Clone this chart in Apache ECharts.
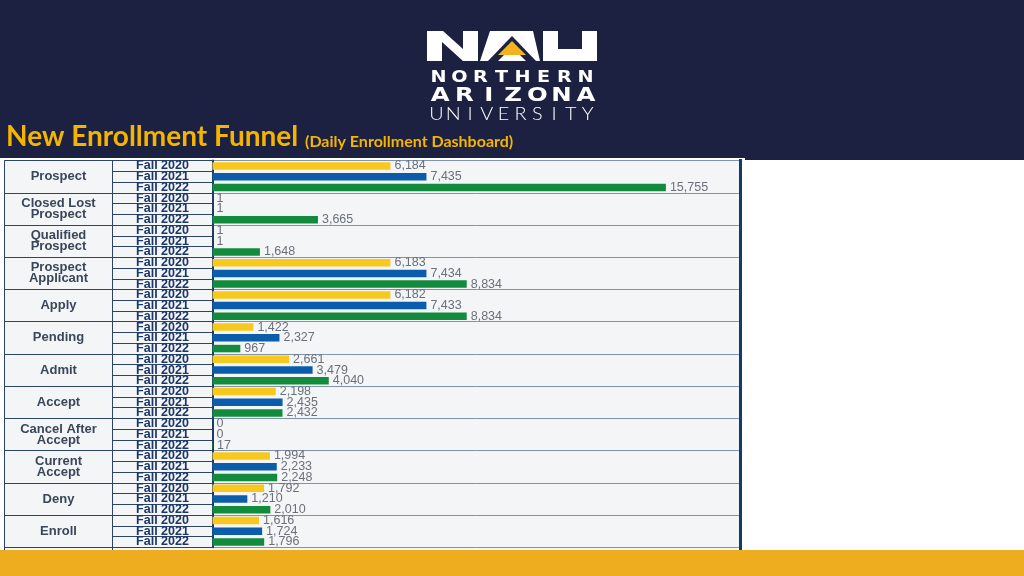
<!DOCTYPE html>
<html>
<head>
<meta charset="utf-8">
<script src="https://cdn.jsdelivr.net/npm/echarts@6/dist/echarts.min.js"></script>
<style>
html,body{margin:0;padding:0;background:#fff;}
#chart{width:1024px;height:576px;}
</style>
</head>
<body>
<div id="chart"></div>
<script>
// ---- data ----
const groups = ['Prospect','Closed Lost\nProspect','Qualified\nProspect','Prospect\nApplicant','Apply','Pending','Admit','Accept','Cancel After\nAccept','Current\nAccept','Deny','Enroll'];
const terms = ['Fall 2020','Fall 2021','Fall 2022'];
const fall2020 = [6184,1,1,6183,6182,1422,2661,2198,0,1994,1792,1616];
const fall2021 = [7435,1,1,7434,7433,2327,3479,2435,0,2233,1210,1724];
const fall2022 = [15755,3665,1648,8834,8834,967,4040,2432,17,2248,2010,1796];
const titleMain = 'New Enrollment Funnel';
const titleSub = '(Daily Enrollment Dashboard)';

// row labels (term under each group)
const rowLabels = [];
groups.forEach(() => terms.forEach(t => rowLabels.push(t)));

const NAVY = '#1c2142';
const GOLD = '#F4B400';

function spaced(text, x0, x1, y, font, weight, size, sx) {
  const n = text.length, step = (x1 - x0) / n, out = [];
  for (let i = 0; i < n; i++) {
    out.push({type:'text', x: x0 + (i + 0.5) * step, y: y, z: 5, scaleX: sx,
      style:{text:text[i], fill:'#ffffff', fontFamily:font, fontWeight:weight, fontSize:size, align:'center', verticalAlign:'middle'}});
  }
  return out;
}

const graphics = [
  // header
  {type:'rect', z:-10, shape:{x:0,y:0,width:1024,height:158}, style:{fill:NAVY}},
  {type:'rect', z:-10, shape:{x:745,y:158,width:279,height:2}, style:{fill:NAVY}},
  // table background
  {type:'rect', z:-10, shape:{x:4.5,y:160.5,width:737,height:390}, style:{fill:'#f4f5f7', stroke:'#2c4468', lineWidth:1}},
  // column dividers
  {type:'line', z:-5, shape:{x1:112.5,y1:160.5,x2:112.5,y2:550}, style:{stroke:'#2c4468', lineWidth:1}},
  {type:'line', z:-5, shape:{x1:4.5,y1:160.5,x2:4.5,y2:550}, style:{stroke:'#2c4468', lineWidth:1}},
  {type:'line', z:20, shape:{x1:740.5,y1:159,x2:740.5,y2:550}, style:{stroke:'#133a6a', lineWidth:3}},
  {type:'line', z:-5, shape:{x1:4.5,y1:160.5,x2:740,y2:160.5}, style:{stroke:'#7f93ad', lineWidth:1}},
  // NAU logo
  {type:'polygon', z:5, shape:{points:[[427,31],[443,31],[463,49],[463,31],[478,31],[478,61],[463,61],[442,42],[442,61],[427,61]]}, style:{fill:'#ffffff'}},
  {type:'polygon', z:5, shape:{points:[[490,31],[533,31],[540,61],[480,61]]}, style:{fill:'#ffffff'}},
  {type:'polygon', z:6, shape:{points:[[512,36],[536,61],[488,61]]}, style:{fill:NAVY}},
  {type:'polygon', z:6, shape:{points:[[498,61],[512,47],[526,61]]}, style:{fill:'#ffffff'}},
  {type:'polygon', z:7, shape:{points:[[512,41],[526,55],[498,55]]}, style:{fill:'#F2B31B'}},
  {type:'polygon', z:5, shape:{points:[[543,31],[558,31],[558,49],[582,49],[582,31],[597,31],[597,61],[543,61]]}, style:{fill:'#ffffff'}},
  // title
  {type:'text', z:5, x:6, y:137, style:{text:titleMain, fill:GOLD, fontFamily:'Lato', fontWeight:'bold', fontSize:28, align:'left', verticalAlign:'middle'}},
  {type:'text', z:5, x:305, y:141.5, style:{text:titleSub, fill:GOLD, fontFamily:'Lato', fontWeight:'bold', fontSize:16, align:'left', verticalAlign:'middle'}},
  // bottom band
  {type:'rect', z:50, shape:{x:0,y:550,width:1024,height:26}, style:{fill:'#EEAC1F'}}
].concat(
  spaced('NORTHERN', 428, 596, 78, 'DejaVu Sans', 'bold', 16, 1.2),
  spaced('ARIZONA', 428, 598, 96, 'DejaVu Sans', 'bold', 19.5, 1.25),
  spaced('UNIVERSITY', 428, 596, 114.5, 'Lato', '300', 18, 1.1)
);

const labelCfg = {
  show:true, position:'right', distance:4,
  fontFamily:'Liberation Sans', fontSize:12.5, color:'#6a707b',
  formatter: p => Number(p.value).toLocaleString('en-US')
};
function barSeries(name, data, color) {
  return {type:'bar', name:name, data:data, yAxisIndex:0, barWidth:7.5, barGap:'43%',
    itemStyle:{color:color}, label:labelCfg, z:3};
}

const chart = echarts.init(document.getElementById('chart'), null, {renderer:'canvas'});
chart.setOption({
  animation:false,
  backgroundColor:'#ffffff',
  grid:{left:212.5, top:160.6, width:527.5, height:386.7, containLabel:false},
  xAxis:{type:'value', min:0, max:18330, show:false},
  yAxis:[
    {type:'category', data:groups, inverse:true, position:'left',
     axisLine:{show:true, lineStyle:{color:'#1d3b66', width:2}},
     axisTick:{show:true, interval:0, length:208, lineStyle:{color:'#2c4468', width:1}},
     axisLabel:{interval:0, margin:154, align:'center', fontFamily:'Liberation Sans', fontWeight:'bold', fontSize:13, lineHeight:11, color:'#39475a'},
     splitLine:{show:true, interval:0, lineStyle:{color:'#7f93ad', width:1}}},
    {type:'category', data:rowLabels, inverse:true, position:'left', offset:0,
     axisLine:{show:false},
     axisTick:{show:true, interval:0, length:100, lineStyle:{color:'#2c4468', width:1}},
     axisLabel:{interval:0, margin:50, align:'center', fontFamily:'Liberation Sans', fontWeight:'bold', fontSize:12.5, color:'#1b3768'},
     splitLine:{show:false}}
  ],
  series:[
    barSeries('Fall 2020', fall2020, '#F8C81C'),
    barSeries('Fall 2021', fall2021, '#0B5CAA'),
    barSeries('Fall 2022', fall2022, '#128C3C')
  ],
  graphic:{elements:graphics}
});
</script>
</body>
</html>
